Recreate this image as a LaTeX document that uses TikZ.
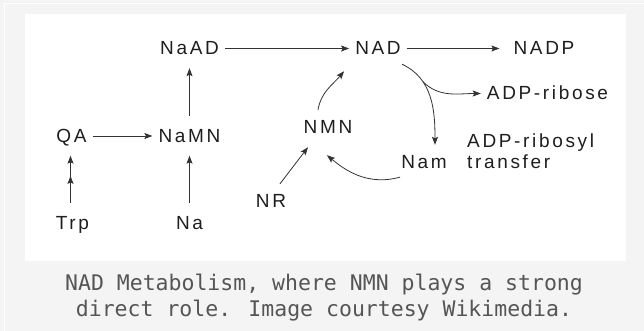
\documentclass[tikz,border=0pt]{standalone}
\usepackage{fontspec}
\usepackage{tikz}
\usetikzlibrary{arrows.meta,decorations.markings}
\newfontfamily\labfont[LetterSpace=14]{Liberation Sans}
\newfontfamily\capfont{DejaVu Sans Mono}
\definecolor{bggray}{HTML}{F4F4F4}
\definecolor{capgray}{HTML}{555555}
\definecolor{inkgray}{HTML}{1E1E1E}
\definecolor{linegray}{HTML}{333333}
\tikzset{
  lab/.style={font=\labfont\fontsize{19}{21}\selectfont, text=inkgray, anchor=base,
    text height=13pt, text depth=0pt, inner xsep=6pt, inner ysep=3pt},
  arr/.style={draw=linegray, line width=0.8pt, -{Stealth[length=8pt,width=6pt,inset=1.5pt]}},
  varr/.style={arr, shorten <=10pt, shorten >=10pt}
}
\begin{document}
\begin{tikzpicture}[x=1pt,y=1pt]
    \useasboundingbox (0,0) rectangle (644,-331);
    \fill[bggray] (0,0) rectangle (644,-331);
    \draw[white, line width=1.2pt] (4.5,-331) -- (4.5,-3.5) -- (644,-3.5);
    \fill[white] (25,-14) rectangle (626,-261);
    % compounds
    \node[lab] (NaAD) at (189.5, -55) {NaAD};
    \node[lab] (NAD) at (378, -55) {NAD};
    \node[lab] (NADP) at (544, -55) {NADP};
    \node[lab] (ADPr) at (547.5, -100) {ADP-ribose};
    \node[lab, anchor=base west] (rsyl) at (461, -147) {ADP-ribosyl};
    \node[lab, anchor=base west] (trans) at (461, -168) {transfer};
    \node[lab] (Nam) at (424, -168) {Nam};
    \node[lab] (NMN) at (328, -134) {NMN};
    \node[lab] (NR) at (271, -207) {NR};
    \node[lab] (QA) at (71.5, -142.5) {QA};
    \node[lab] (NaMN) at (189.5, -142.5) {NaMN};
    \node[lab] (Trp) at (72.5, -229) {Trp};
    \node[lab] (Na) at (189.5, -229) {Na};
    % reactions
    \draw[arr] (NaAD) -- (NAD);
    \draw[arr, shorten >=8pt] (NAD) -- (NADP);
    \draw[arr] (QA) -- (NaMN);
    \draw[varr] (NaMN.north) -- (NaAD.south);
    \draw[varr] (Na.north) -- (NaMN.south);
    \draw[varr, postaction={decorate}, decoration={markings,
      mark=at position 0.55 with {\arrow{Stealth[length=8pt,width=6pt,inset=1.5pt]}}}]
      ([xshift=-2pt]Trp.north) -- ([xshift=-1pt]QA.south);
    \draw[arr] ([shift={(9pt,7pt)}]NR.north) -- ([shift={(-20pt,-10pt)}]NMN.south);
    \draw[arr] ([shift={(-10pt,8pt)}]NMN.north) to[out=80, in=-130] ([shift={(-5pt,-13pt)}]NAD.south west);
    \draw[arr] ([shift={(24pt,-6pt)}]NAD.south) to[out=-25, in=90] coordinate[pos=0.3] (fork) ([shift={(11pt,7pt)}]Nam.north);
    \draw[arr] (fork) to[out=-45, in=180] (ADPr.west);
    \draw[arr] ([shift={(-24pt,-6pt)}]Nam.south) to[out=195, in=-40] ([shift={(-1pt,-18pt)}]NMN.south);
    % caption
    \node[font=\capfont\fontsize{21.5}{26}\selectfont, text=capgray, align=center, anchor=base]
      (cap) at (324, -316) {NAD Metabolism, where NMN plays a strong\\direct role. Image courtesy Wikimedia.};
\end{tikzpicture}
\end{document}
